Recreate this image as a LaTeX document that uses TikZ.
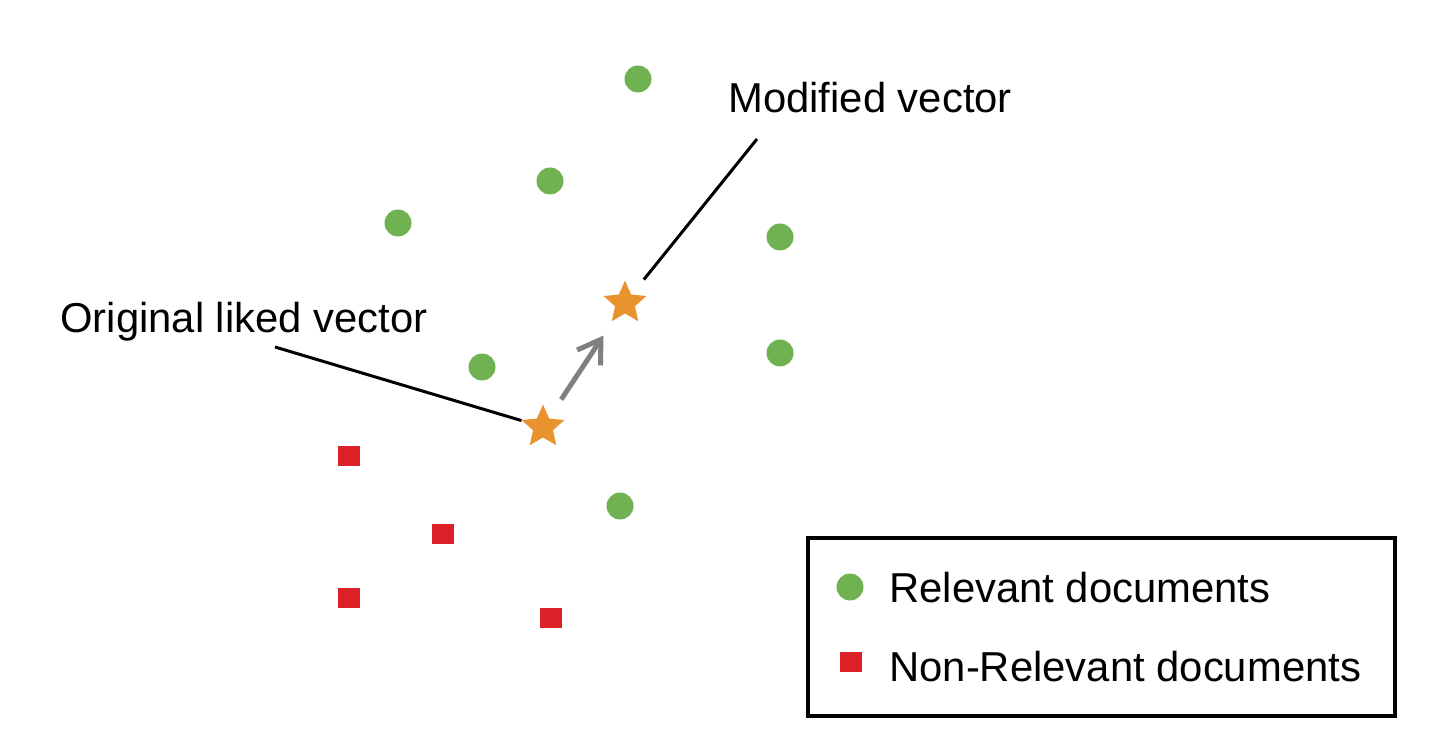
\documentclass[tikz,border=0pt]{standalone}
\usepackage{fontspec}
\setmainfont{Liberation Sans}
\usetikzlibrary{arrows.meta,shapes.geometric}
\definecolor{relGreen}{HTML}{70B152}
\definecolor{nonRelRed}{HTML}{DC2228}
\definecolor{vecOrange}{HTML}{E8932E}
\definecolor{shiftGray}{HTML}{808080}
\tikzset{
  relDoc/.style={circle, fill=relGreen, inner sep=0pt, minimum size=0.54cm},
  nonRelDoc/.style={rectangle, fill=nonRelRed, inner sep=0pt,
    minimum width=0.44cm, minimum height=0.40cm},
  vecStar/.style={star, star points=5, star point ratio=2.15, fill=vecOrange,
    inner sep=0pt, minimum size=0.9cm},
  labelText/.style={font=\fontsize{23.8}{28}\selectfont, inner sep=0pt, anchor=base west},
  leaderLine/.style={draw=black, line width=0.06cm},
  shiftArc/.style={-{Straight Barb[length=4.4mm, width=5.6mm]}, draw=shiftGray, line width=0.1cm},
  legendFrame/.style={draw=black, line width=0.08cm, minimum width=11.74cm,
    minimum height=3.56cm, inner sep=0pt},
}

\begin{document}
\begin{tikzpicture}[x=0.02cm, y=-0.02cm]
    \useasboundingbox (0,0) rectangle (1436,756);
    % relevant documents
    \node[relDoc] (rel1) at (638,79) {};
    \node[relDoc] (rel2) at (550,181) {};
    \node[relDoc] (rel3) at (398,223) {};
    \node[relDoc] (rel4) at (780,237) {};
    \node[relDoc] (rel5) at (780,353) {};
    \node[relDoc] (rel6) at (482,367) {};
    \node[relDoc] (rel7) at (620,506) {};
    % non-relevant documents
    \node[nonRelDoc] (non1) at (349,456) {};
    \node[nonRelDoc] (non2) at (443,534) {};
    \node[nonRelDoc] (non3) at (349,598) {};
    \node[nonRelDoc] (non4) at (551,618) {};
    % query vectors
    \node[vecStar] (orig) at (543,427) {};
    \node[vecStar] (modified) at (625,303) {};
    \draw[shiftArc, shorten <=0.66cm, shorten >=0.78cm] (orig.center) -- (modified.center);
    % labels
    \node[labelText] (origLabel) at (60,333) {Original liked vector};
    \node[labelText] (modLabel) at (728,113) {Modified vector};
    \coordinate (origTag) at (275,347);
    \coordinate (modTag) at (757,139);
    \draw[leaderLine, shorten >=0.45cm] (origTag) -- (orig.center);
    \draw[leaderLine, shorten >=0.6cm] (modTag) -- (modified.center);
    % legend
    \node[legendFrame] (legend) at (1101.5,627) {};
    \node[relDoc] (keyRel) at (850,587) {};
    \node[nonRelDoc] (keyNon) at (851,662) {};
    \node[labelText] (keyRelText) at (889,602) {Relevant documents};
    \node[labelText] (keyNonText) at (889,681) {Non-Relevant documents};
  \end{tikzpicture}
\end{document}
